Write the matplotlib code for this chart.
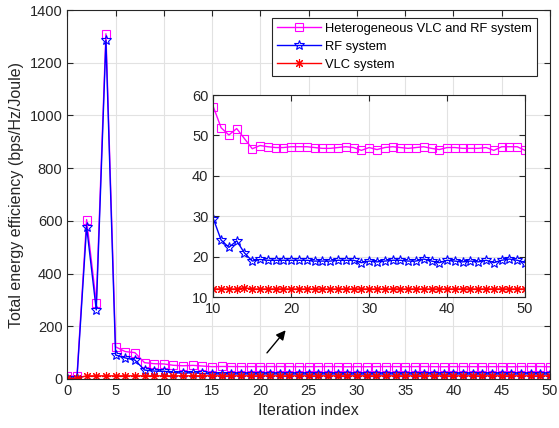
import numpy as np
import matplotlib
matplotlib.use("Agg")
import matplotlib.pyplot as plt

plt.rcParams['font.family'] = ['Liberation Sans', 'DejaVu Sans']

iterations = np.arange(0, 51)

# energy efficiency per iteration
hetero_ee = [12, 10, 605, 290, 1310, 122, 104, 100, 62, 58,
             57.1, 51.9, 50.1, 51.7, 49.2, 46.7, 47.5, 47.2, 47.0, 47.0,
             47.2, 47.2, 47.2, 47.0, 46.8, 46.8, 47.0, 47.2, 47.0, 46.3,
             47.0, 46.5, 47.0, 47.2, 47.0, 46.8, 47.0, 47.2, 46.8, 46.5,
             47.0, 47.0, 46.8, 46.8, 46.8, 47.0, 46.3, 47.2, 47.2, 47.2,
             46.3]
rf_ee = [3, 2, 578, 262, 1285, 91, 80, 72, 34, 30,
         29.4, 24.1, 22.3, 23.9, 20.9, 18.9, 19.3, 19.1, 19.1, 19.1,
         19.1, 19.1, 19.1, 18.9, 18.9, 18.9, 19.1, 19.1, 19.1, 18.5,
         18.9, 18.7, 18.9, 19.1, 19.1, 18.9, 18.9, 19.4, 18.9, 18.5,
         19.1, 18.9, 18.7, 18.9, 18.7, 19.1, 18.5, 19.1, 19.4, 19.1,
         18.5]
vlc_ee = [3, 3] + [12.0] * 12 + [12.3] + [12.0] * 36

labels = ['Heterogeneous VLC and RF system', 'RF system', 'VLC system']
colors = ['#FF00FF', '#0000FF', '#FF0000']
markers = ['s', '*', (8, 2, 0)]
msizes = [6, 7, 6.5]


def style_axes(ax):
    ax.grid(True, color='#E2E2E2', linewidth=0.8)
    ax.set_axisbelow(True)
    ax.tick_params(direction='in', top=True, right=True, labelsize=10.5,
                   colors='#262626', length=4)
    for sp in ax.spines.values():
        sp.set_color('#262626')
        sp.set_linewidth(0.8)


def draw_series(ax, start=0):
    for y, c, m, ms, lab in zip([hetero_ee, rf_ee, vlc_ee], colors, markers, msizes, labels):
        ax.plot(iterations[start:], y[start:], color=c, marker=m, markersize=ms,
                markerfacecolor='none', markeredgecolor=c, markeredgewidth=0.8,
                linewidth=1.0, label=lab)


fig = plt.figure(figsize=(5.59, 4.28), dpi=100)
ax = fig.add_axes([0.1204, 0.1145, 0.8635, 0.862])
draw_series(ax)

ax.set_xlim(0, 50)
ax.set_ylim(0, 1400)
ax.set_xticks(np.arange(0, 51, 5))
ax.set_yticks(np.arange(0, 1401, 200))
style_axes(ax)
ax.set_xlabel('Iteration index', fontsize=11.5, color='#262626')
ax.set_ylabel('Total energy efficiency (bps/Hz/Joule)', fontsize=11.5, color='#262626')

leg = ax.legend(loc='upper right', bbox_to_anchor=(0.973, 0.979), fontsize=9.3,
                fancybox=False, framealpha=1, edgecolor='#262626',
                handlelength=3.4, borderpad=0.4, labelspacing=0.45,
                handletextpad=0.3, borderaxespad=0)
leg.get_frame().set_linewidth(0.8)

ax.annotate('', xy=(22.8, 193), xytext=(20.5, 91),
            arrowprops=dict(arrowstyle='-|>', color='black', lw=1.0,
                            mutation_scale=14))

# zoomed view of iterations 10-50
inset = fig.add_axes([0.3816, 0.306, 0.5576, 0.472])
draw_series(inset, start=10)
inset.set_xlim(10, 50)
inset.set_ylim(10, 60)
inset.set_xticks(np.arange(10, 51, 10))
inset.set_yticks(np.arange(10, 61, 10))
style_axes(inset)

fig.savefig('out.png', dpi=100)
